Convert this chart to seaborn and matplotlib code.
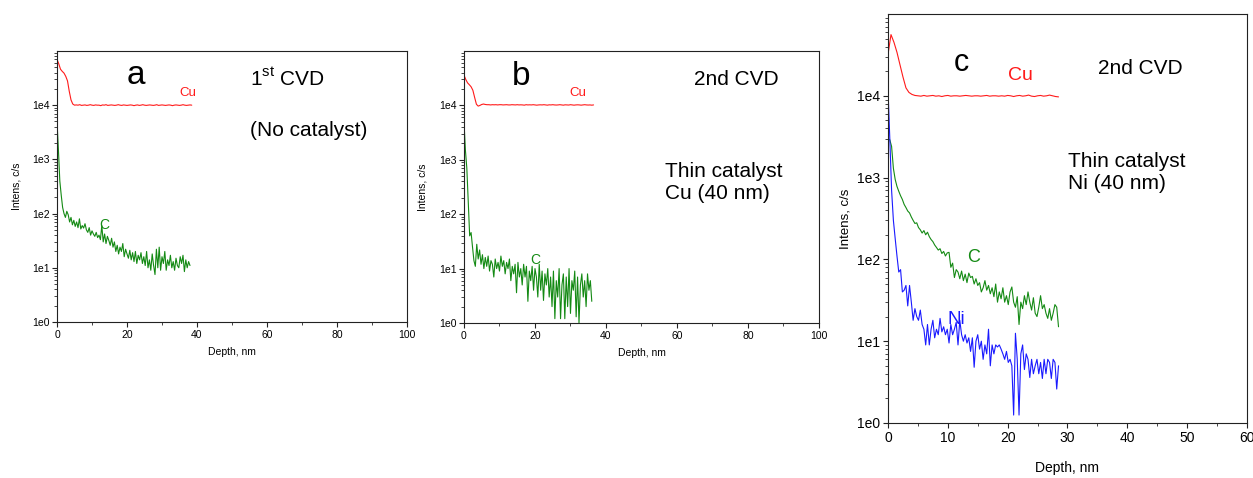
import numpy as np
import pandas as pd
import matplotlib
matplotlib.use("Agg")
import matplotlib.pyplot as plt
import seaborn as sns
from matplotlib.ticker import FuncFormatter, NullFormatter, LogLocator, MultipleLocator

sns.set_theme(style="ticks")
plt.rcParams['font.family'] = ['Liberation Sans', 'DejaVu Sans']
plt.rcParams['mathtext.fontset'] = 'custom'
plt.rcParams['mathtext.rm'] = 'Liberation Sans'
plt.rcParams['text.color'] = 'black'

RED = "#ff1a1a"
GREEN = "#148a14"
BLUE = "#1a1aff"

# depth step (nm) of each profile
cu_step = 0.5

# ---- panel a: 1st CVD, no catalyst ----
a_c_step = 0.4
a_cu = [70000, 58000, 46000, 42000, 39000, 34000, 28000, 18000, 12500, 10500, 10000,
        10100, 10000, 10200, 9900, 10000, 10100, 9900, 10000, 10200, 10000,
        9900, 10100, 10000, 10000, 9800, 10100, 10000, 10200, 9900, 10000,
        10100, 10000, 9900, 10000, 10200, 10000, 9900, 10100, 10000, 9900,
        10000, 10100, 10000, 9800, 10000, 10100, 9900, 10000, 10200, 10000,
        9900, 10000, 10100, 10000, 9900, 10000, 10200, 9900, 10000, 10100,
        10000, 9900, 10000, 10100, 10000, 9800, 10000, 10100, 10000, 9900,
        10000, 10200, 10000, 9900, 10000, 10100, 10000]
a_c = [5000, 1500, 400, 220, 130, 100, 85, 110, 95, 70, 85, 62, 75, 58, 70, 55,
       80, 52, 60, 54, 65, 50, 45, 55, 40, 48, 42, 38, 45, 36, 40, 33, 60, 30,
       42, 28, 38, 32, 26, 35, 24, 30, 20, 26, 18, 24, 20, 28, 16, 22, 18, 15,
       21, 14, 19, 13, 20, 12, 17, 14, 19, 12, 16, 11, 20, 10, 14, 9, 18, 11,
       7.5, 22, 10, 24, 9, 16, 12, 20, 9, 14, 11, 17, 10, 13, 9, 15, 11, 10,
       16, 12, 17, 8.5, 14, 10, 13, 11]

# ---- panel b: 2nd CVD, thin Cu catalyst ----
b_c_step = 0.4
b_cu = [36000, 30000, 26000, 24000, 22000, 19000, 14000, 10500, 9700, 10000, 10400, 10600, 10400,
        10300, 10300, 10200, 10300, 10250, 10300, 10200, 10300, 10300, 10200,
        10250, 10300, 10200, 10200, 10300, 10250, 10200, 10300, 10200, 10250,
        10200, 10100, 10300, 10200, 10250, 10200, 10300, 10200, 10100, 10200,
        10250, 10200, 10300, 10200, 10100, 10250, 10200, 10300, 10200, 10150,
        10200, 10300, 10200, 10100, 10250, 10200, 10150, 10300, 10200, 10100,
        10200, 10250, 10200, 10100, 10200, 10300, 10200, 10150, 10200, 10100,
        10200]
b_c = [5000, 1500, 700, 170, 40, 46, 25, 14, 11, 28, 15, 22, 12, 18, 10, 16,
       11, 17, 9, 14, 12, 7, 15, 10, 13, 9, 17, 11, 14, 8, 13, 10, 15, 6, 11,
       8, 12, 3.6, 13, 7, 10, 5, 12, 7, 11, 2.5, 9, 6, 11, 4, 10, 7, 3, 12, 4,
       9, 2.6, 8, 5, 10, 3, 7, 2, 9, 1.2, 6, 3, 10, 1.2, 5, 8, 1.2, 7, 2, 10,
       1.5, 6, 4, 9, 1.3, 7, 1.0, 5, 8, 3, 6, 2, 8, 4, 6, 2.5]

# ---- panel c: 2nd CVD, thin Ni catalyst ----
c_step = 0.3
c_cu = [32000, 56000, 45000, 34000, 24000, 17000, 12500, 11000, 10400, 10100,
        10000, 9900, 10100, 9900, 10000, 10100, 9900, 10000, 9800, 10000,
        10100, 9900, 10000, 10000, 9900, 10000, 10100, 10000, 9900, 10000,
        10000, 9900, 10000, 10100, 9900, 10000, 10000, 9900, 10000, 9900,
        10100, 10000, 9800, 10000, 10100, 9900, 10000, 10200, 9900, 9800,
        10000, 10100, 9900, 10000, 10200, 10000, 9800, 9700]
c_c = [3000, 2900, 2400, 1300, 950, 780, 680, 600, 540, 470, 430, 390, 370, 330,
       300, 275, 280, 245, 230, 210, 225, 200, 215, 190, 175, 165, 150, 140, 130,
       135, 118, 125, 110, 120, 122, 80, 90, 60, 75, 70, 58, 72, 55, 66, 52, 68,
       60, 62, 50, 58, 48, 52, 40, 45, 55, 42, 48, 38, 45, 35, 50, 30, 40, 33,
       45, 30, 36, 28, 40, 46, 30, 26, 35, 16, 30, 25, 36, 28, 40, 30, 24, 34,
       22, 20, 26, 36, 25, 28, 22, 19, 25, 18, 22, 28, 26, 15]
c_ni = [12000, 3000, 700, 300, 180, 110, 70, 75, 40, 42, 48, 27, 48, 30, 18, 25,
        20, 18, 24, 16, 14, 9, 16, 9, 14, 18, 11, 14, 12, 19, 13, 15, 12, 14,
        9.5, 16, 12, 14, 17, 9, 18, 12, 10, 12, 9.5, 11, 7.5, 11, 4.8, 10, 12,
        8, 10, 6, 9, 7, 14, 5, 9, 7, 9, 8.5, 9, 8, 7, 6, 7.5, 5.5, 6, 5, 1.25,
        12.5, 6, 1.25, 7, 9, 4.5, 7, 6, 3.6, 6, 4, 5, 6, 4, 5.5, 3.5, 6, 4, 6,
        5.5, 3.5, 6, 5.5, 2.6, 5]

y_ticks = [1, 10, 100, 1e3, 1e4]


def profile(vals, step):
    return pd.DataFrame({"depth": np.arange(len(vals)) * step, "intens": vals})


def style(ax, xmax, xmajor, xminor, tick_fs, label_fs):
    ax.set_yscale("log")
    ax.set_ylim(1, 1e5)
    ax.set_xlim(0, xmax)
    ax.set_yticks(y_ticks)
    ax.yaxis.set_major_formatter(FuncFormatter(lambda v, p: f"1e{int(round(np.log10(v)))}"))
    ax.yaxis.set_minor_locator(LogLocator(base=10, subs=np.arange(2, 10), numticks=20))
    ax.yaxis.set_minor_formatter(NullFormatter())
    ax.set_xticks(np.arange(0, xmax + 1, xmajor))
    ax.xaxis.set_minor_locator(MultipleLocator(xminor))
    ax.tick_params(which="major", length=3.5, width=0.8, pad=2, labelsize=tick_fs,
                   colors="#222222", labelcolor="black")
    ax.tick_params(which="minor", length=2, width=0.6)
    for sp in ax.spines.values():
        sp.set_linewidth(0.8)
        sp.set_color("#222222")
    ax.set_xlabel("Depth, nm", fontsize=label_fs, color="black")
    ax.set_ylabel("Intens, c/s", fontsize=label_fs, color="black")
    ax.xaxis.set_label_coords(0.5, -0.11)
    ax.yaxis.set_label_coords(-0.116, 0.5)
    ax.xaxis.label.set_va("center")
    ax.yaxis.label.set_va("center")


fig = plt.figure(figsize=(12.53, 4.78), dpi=100)
ax_a = fig.add_axes([0.0455, 0.3264, 0.2793, 0.567])
ax_b = fig.add_axes([0.3703, 0.3243, 0.2833, 0.569])
ax_c = fig.add_axes([0.7087, 0.1151, 0.2865, 0.8556])

# panel a
sns.lineplot(data=profile(a_cu, cu_step), x="depth", y="intens", color=RED, lw=0.8, estimator=None, ax=ax_a)
sns.lineplot(data=profile(a_c, a_c_step), x="depth", y="intens", color=GREEN, lw=0.8, estimator=None, ax=ax_a)
style(ax_a, 100, 20, 10, 7.5, 7.5)
ax_a.text(0.226, 0.908, "a", transform=ax_a.transAxes, fontsize=24, ha="center", va="center")
ax_a.text(0.551, 0.897, r"1$^{\mathrm{st}}$ CVD", transform=ax_a.transAxes, fontsize=15, ha="left", va="center")
ax_a.text(0.551, 0.706, "(No catalyst)", transform=ax_a.transAxes, fontsize=15, ha="left", va="center")
ax_a.text(35.1, 1.7e4, "Cu", color=RED, fontsize=9.5, ha="left", va="center")
ax_a.text(12.0, 61, "C", color=GREEN, fontsize=10, ha="left", va="center")

# panel b
sns.lineplot(data=profile(b_cu, cu_step), x="depth", y="intens", color=RED, lw=0.8, estimator=None, ax=ax_b)
sns.lineplot(data=profile(b_c, b_c_step), x="depth", y="intens", color=GREEN, lw=0.8, estimator=None, ax=ax_b)
style(ax_b, 100, 20, 10, 7.5, 7.5)
ax_b.text(0.16, 0.905, "b", transform=ax_b.transAxes, fontsize=24, ha="center", va="center")
ax_b.text(0.648, 0.897, "2nd CVD", transform=ax_b.transAxes, fontsize=15, ha="left", va="center")
ax_b.text(0.566, 0.515, "Thin catalyst\nCu (40 nm)", transform=ax_b.transAxes, fontsize=15,
          ha="left", va="center", linespacing=1.2)
ax_b.text(29.6, 1.7e4, "Cu", color=RED, fontsize=9.5, ha="left", va="center")
ax_b.text(18.6, 14.5, "C", color=GREEN, fontsize=10, ha="left", va="center")

# panel c
sns.lineplot(data=profile(c_cu, cu_step), x="depth", y="intens", color=RED, lw=0.8, estimator=None, ax=ax_c)
sns.lineplot(data=profile(c_c, c_step), x="depth", y="intens", color=GREEN, lw=0.8, estimator=None, ax=ax_c)
sns.lineplot(data=profile(c_ni, c_step), x="depth", y="intens", color=BLUE, lw=0.8, estimator=None, ax=ax_c)
style(ax_c, 60, 10, 5, 10, 10)
ax_c.yaxis.label.set_fontsize(9.5)
ax_c.yaxis.set_label_coords(-0.117, 0.5)
ax_c.text(0.205, 0.880, "c", transform=ax_c.transAxes, fontsize=22, ha="center", va="center")
ax_c.text(0.585, 0.866, "2nd CVD", transform=ax_c.transAxes, fontsize=15, ha="left", va="center")
ax_c.text(0.501, 0.613, "Thin catalyst\nNi (40 nm)", transform=ax_c.transAxes, fontsize=15,
          ha="left", va="center", linespacing=1.2)
ax_c.text(20.0, 1.75e4, "Cu", color=RED, fontsize=14, ha="left", va="center")
ax_c.text(13.3, 106, "C", color=GREEN, fontsize=13, ha="left", va="center")
ax_c.text(9.9, 18.5, "Ni", color=BLUE, fontsize=13.5, ha="left", va="center")

fig.savefig("out.png", dpi=100)
